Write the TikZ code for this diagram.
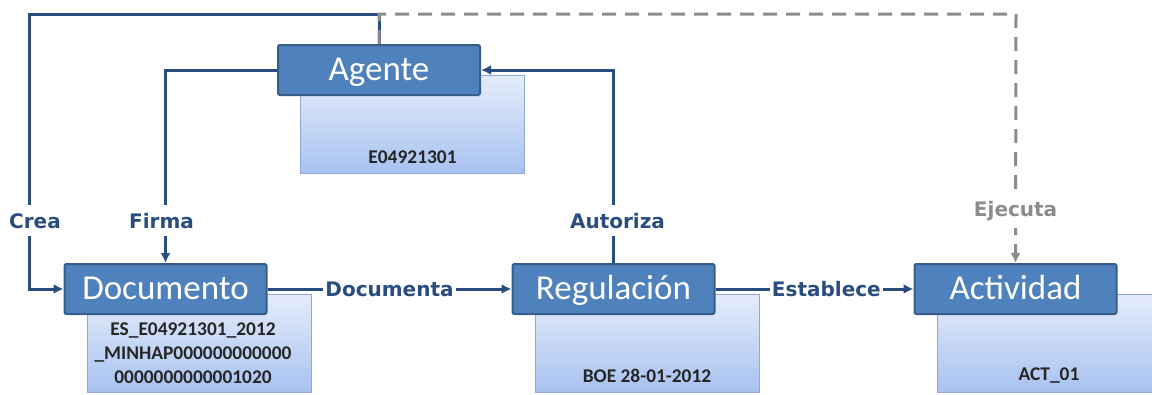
\documentclass[tikz,border=0pt]{standalone}
\usepackage{fontspec}
\setmainfont{Carlito}
\newfontfamily\tagfont{DejaVu Sans}
\usetikzlibrary{positioning,arrows.meta,backgrounds}
\definecolor{boxblue}{HTML}{4F81BD}
\definecolor{boxedge}{HTML}{385D8A}
\definecolor{linkblue}{HTML}{2A4D80}
\definecolor{linkgray}{HTML}{8C8C8C}
\definecolor{idedge}{HTML}{8EA9D8}
\definecolor{idtop}{HTML}{E4ECFA}
\definecolor{idbottom}{HTML}{A7C2F0}
\tikzset{
  mainbox/.style={rectangle, rounded corners=2pt, draw=boxedge, line width=2pt, fill=boxblue,
                  text=white, minimum width=202pt, minimum height=50pt, inner sep=0pt,
                  text height=31pt, text depth=10pt,
                  font=\fontsize{35}{38}\selectfont},
  idbox/.style={rectangle, draw=idedge, line width=1pt, top color=idtop, bottom color=idbottom,
                minimum width=224pt, minimum height=98pt, inner sep=0pt},
  idtext/.style={inner sep=0pt, align=center, text=black!85, font=\bfseries\fontsize{19.4}{24}\selectfont},
  link/.style={-{Latex[length=10pt,width=10pt]}, line width=3pt, draw=linkblue},
  weak/.style={-{Latex[length=10pt,width=10pt]}, line width=3pt, draw=linkgray,
               dash pattern=on 14pt off 9pt},
  tag/.style={fill=white, inner xsep=2pt, inner ysep=8pt, text=linkblue,
              font=\tagfont\bfseries\fontsize{20}{22}\selectfont},
}

\begin{document}
\begin{tikzpicture}[x=1pt,y=-1pt]
\useasboundingbox (0,0) rectangle (1152,394);
%Nodes
\node[mainbox] (agente) at (379,70) {Agente};
\node[mainbox] (documento) at (165.5,289) {Documento};
\node[mainbox] (regulacion) [right=244pt of documento] {Regulación};
\node[mainbox] (actividad) [right=198pt of regulacion] {Actividad};

%Id boxes
\begin{scope}[on background layer]
\node[idbox] (agente-id) [below right=31pt and 23pt of agente.north west] {};
\node[idbox] (documento-id) [below right=31pt and 23pt of documento.north west] {};
\node[idbox] (regulacion-id) [below right=31pt and 23pt of regulacion.north west] {};
\node[idbox] (actividad-id) [below right=31pt and 23pt of actividad.north west] {};
\end{scope}
\node[idtext] [above=10pt of agente-id.south] {E04921301};
\node[idtext] [above=9pt of documento-id.south, xshift=-6pt] {ES\_E04921301\_2012\\\_MINHAP000000000000\\0000000000001020};
\node[idtext] [above=10pt of regulacion-id.south] {BOE 28-01-2012};
\node[idtext] [above=10pt of actividad-id.south] {ACT\_01};

%Lines
\coordinate (crea-corner) at (29,14);
\coordinate (ejecuta-corner) at (1016,14);
\draw[link] (agente.north) |- (crea-corner) |- (documento.west) node[tag, pos=0.376, xshift=6pt] {Crea};
\draw[link] (agente.west) -| (documento.north) node[tag, pos=0.89, xshift=-4pt] {Firma};
\draw[link] (regulacion.north) |- (agente.east) node[tag, pos=0.11, xshift=4pt] {Autoriza};
\draw[link] (documento.east) -- (regulacion.west) node[tag, midway] {Documenta};
\draw[link] (regulacion.east) -- (actividad.west) node[tag, pos=0.56] {Establece};
\draw[weak] (agente.north) |- (ejecuta-corner) -- (actividad.north) node[tag, text=linkgray, pos=0.79] {Ejecuta};
\end{tikzpicture}
\end{document}
